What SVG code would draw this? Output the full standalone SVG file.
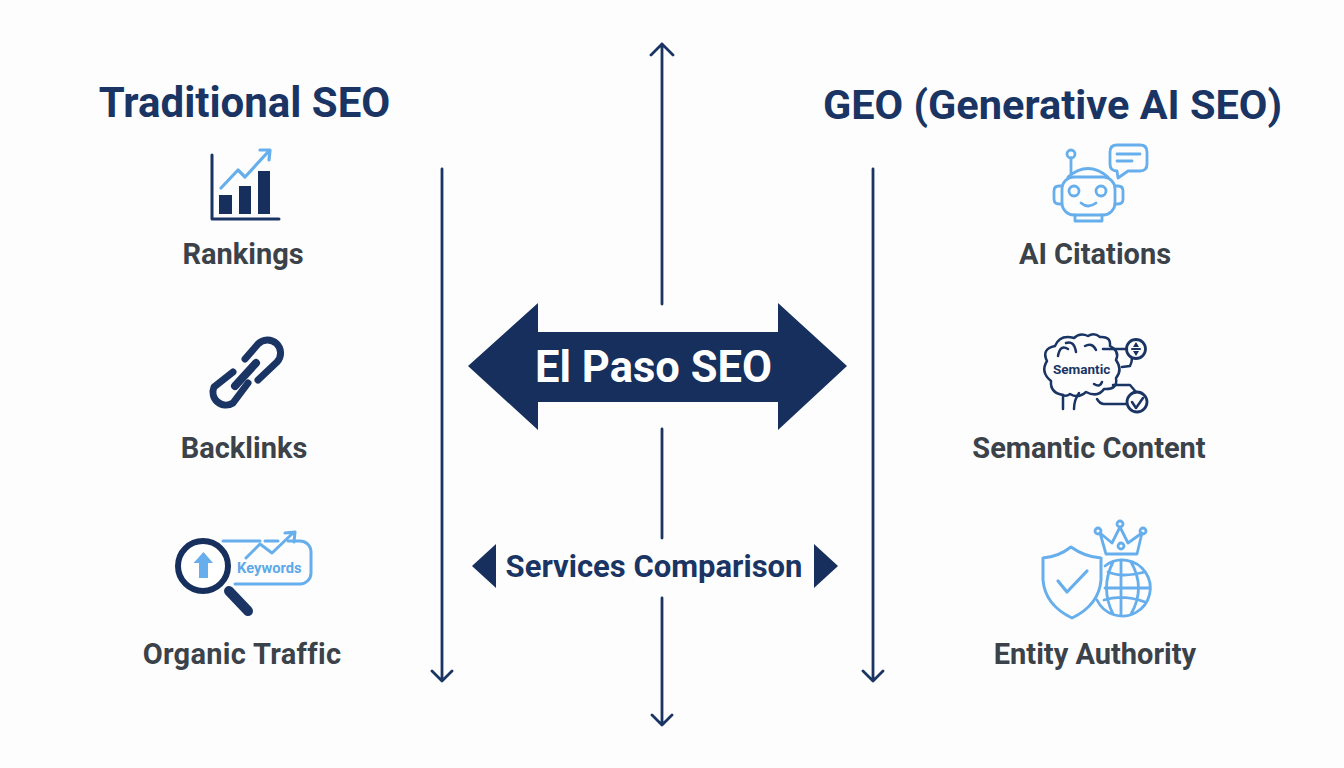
<svg xmlns="http://www.w3.org/2000/svg" width="1344" height="768" viewBox="0 0 1344 768">
<defs>
<style>
.t{font-family:Roboto,"Liberation Sans",sans-serif;font-weight:700}
.h{font-size:42px;fill:#1a3563;text-anchor:middle}
.l{font-size:29px;fill:#3b4249;text-anchor:middle}
.ln{fill:none;stroke:#1a3563;stroke-width:2.800;stroke-linecap:round;stroke-linejoin:round}
.dk{fill:none;stroke:#1a3563;stroke-linecap:round;stroke-linejoin:round}
.lt{fill:none;stroke:#66aeec;stroke-linecap:round;stroke-linejoin:round}
.sf{fill:#172f5c}
</style>
</defs>
<rect width="1344" height="768" fill="#fdfdfe"/>
<g id="connectors">
<path class="ln" d="M662 304V44M651 55L662 44L673 55"/>
<path class="ln" d="M662 429V538M662 598V725M652 715L662 725L672 715"/>
<path class="ln" d="M442 169V681M432 671L442 681L452 671"/>
<path class="ln" d="M873 169V681M863 671L873 681L883 671"/>
</g>
<g id="title-left"><text class="t h" x="244.500" y="117">Traditional SEO</text></g>
<g id="title-right"><text class="t h" x="1052.500" y="119" style="font-size:41.500px">GEO (Generative AI SEO)</text></g>
<g id="center-arrow">
<polygon class="sf" points="468,366 538,303 538,332 778,332 778,303 847,366 778,430 778,402 538,402 538,430"/>
<text class="t" x="653.500" y="382" font-size="43.500" fill="#fff" text-anchor="middle">El Paso SEO</text>
</g>
<g id="services-comparison">
<polygon class="sf" points="472,566 496,544 496,588"/>
<polygon class="sf" points="838,566 814,544 814,588"/>
<text class="t" x="654" y="577" font-size="31" fill="#1a3563" text-anchor="middle">Services Comparison</text>
</g>
<g id="rankings">
<path class="dk" stroke-width="3" d="M212 155V219H279" stroke-linecap="butt"/>
<rect class="sf" x="219" y="195" width="13" height="19"/>
<rect class="sf" x="239" y="186" width="12" height="28"/>
<rect class="sf" x="258" y="171" width="12" height="43"/>
<path class="lt" stroke-width="3.200" d="M221 188L238 170L245 177L268 152M260 150L270 150L269 160"/>
<text class="t l" x="243" y="264">Rankings</text>
</g>
<g id="backlinks">
<path class="dk" stroke-width="7" d="M245 359L258 344A13 13 0 0 1 277 362L258 380"/>
<path class="dk" stroke-width="7" d="M248 383L233 403A13 13 0 0 1 214 387L233 372"/>
<path class="dk" stroke-width="8" d="M235 386L256 363"/>
<text class="t l" x="244" y="458">Backlinks</text>
</g>
<g id="organic-traffic">
<path class="lt" stroke-width="3" d="M223 541H260M265 541H278M288 541H299A11 11 0 0 1 311 552V573A11 11 0 0 1 300 584H235"/>
<path class="lt" stroke-width="3" d="M246 558L260 544L272 553L293 533M285 533L295 532L294 542"/>
<circle cx="203" cy="566" r="25" fill="#fff" stroke="#172f5c" stroke-width="6"/>
<path class="dk" stroke-width="10" d="M229 591L248 611"/>
<polygon fill="#66aeec" points="203.500,552 213,563 208,563 208,578 199,578 199,563 193.500,563"/>
<text class="t" x="237" y="573" font-size="14.700" fill="#5ea9e8">Keywords</text>
<text class="t l" x="242" y="664" letter-spacing=".3">Organic Traffic</text>
</g>
<g id="ai-citations">
<path class="lt" stroke-width="2.800" d="M1068 177Q1088 160 1108 177"/>
<rect class="lt" stroke-width="2.800" x="1062" y="177" width="53" height="38" rx="12"/>
<path class="lt" stroke-width="2.800" d="M1062 186H1059Q1054 186 1054 191V199Q1054 204 1059 204H1062M1115 186H1118Q1123 186 1123 191V199Q1123 204 1118 204H1115"/>
<circle class="lt" stroke-width="2.800" cx="1074" cy="191" r="5"/>
<circle class="lt" stroke-width="2.800" cx="1101" cy="191" r="5"/>
<path class="lt" stroke-width="2.800" d="M1081 203Q1088 209 1096 203M1075 215V221H1102V215"/>
<circle class="lt" stroke-width="2.800" cx="1071" cy="154" r="4"/>
<path class="lt" stroke-width="2.800" d="M1071 158V175"/>
<path class="lt" stroke-width="2.800" d="M1117 145H1140Q1147 145 1147 152V164Q1147 171 1140 171H1128L1118 178L1117 171Q1110 171 1110 164V152Q1110 145 1117 145Z"/>
<path class="lt" stroke-width="2.800" d="M1117 154H1140M1117 161H1132"/>
<text class="t l" x="1095" y="264">AI Citations</text>
</g>
<g id="semantic-content">
<path class="dk" stroke-width="2.500" d="M1063 395Q1050 393 1051 381Q1040 372 1047 361Q1041 349 1055 346Q1060 334 1074 338Q1080 332 1088 336Q1094 332 1100 337Q1111 336 1110 346Q1120 351 1116 360Q1123 370 1116 378Q1118 390 1104 389Q1098 398 1086 392Q1078 399 1070 394Q1066 397 1063 395Z"/>
<path class="dk" stroke-width="2.500" d="M1058 356Q1060 344 1068 349M1066 343Q1074 340 1076 352M1085 346Q1092 342 1096 350M1094 384Q1100 388 1102 382"/>
<path class="dk" stroke-width="2.500" d="M1063 395V409M1079 393Q1074 400 1074 409M1103 349H1127M1122 367L1130 366Q1132 362 1132 358M1113 385H1130L1136 392M1097 399Q1100 404 1104 404H1126"/>
<circle class="dk" stroke-width="2.800" cx="1136" cy="349" r="9.500"/>
<circle class="dk" stroke-width="2.800" cx="1137" cy="402" r="10"/>
<path class="dk" stroke-width="2" d="M1132 349H1140"/>
<polygon class="sf" points="1136,342 1139,347 1133,347"/>
<polygon class="sf" points="1136,356 1139,351 1133,351"/>
<path class="dk" stroke-width="2.500" d="M1132 402L1136 408L1143 398"/>
<text class="t" x="1053" y="374" font-size="13.500" fill="#1a3563">Semantic</text>
<text class="t l" x="1089" y="458">Semantic Content</text>
</g>
<g id="entity-authority">
<path class="lt" stroke-width="3" d="M1071 547Q1058 557 1043 558V580Q1045 605 1072 618Q1099 605 1101 580V558Q1085 557 1071 547Z"/>
<path class="lt" stroke-width="3.200" d="M1058 581L1067 592L1087 571"/>
<circle class="lt" stroke-width="2.800" cx="1098" cy="531" r="3"/>
<circle class="lt" stroke-width="2.800" cx="1120" cy="524" r="3"/>
<circle class="lt" stroke-width="2.800" cx="1143" cy="531" r="3"/>
<circle class="lt" stroke-width="2.800" cx="1121" cy="546" r="3"/>
<path class="lt" stroke-width="2.800" d="M1100 533L1112 543L1120 527L1128 543L1142 533L1137 554H1106Z"/>
<path class="lt" stroke-width="2.800" d="M1105 566A28 28 0 1 1 1097 600M1121 560V616M1105 588H1150M1108 572Q1122 578 1145 572M1104 600Q1122 594 1145 602M1113 562Q1100 588 1113 614M1131 562Q1146 588 1131 614"/>
<text class="t l" x="1095" y="664">Entity Authority</text>
</g>
</svg>
